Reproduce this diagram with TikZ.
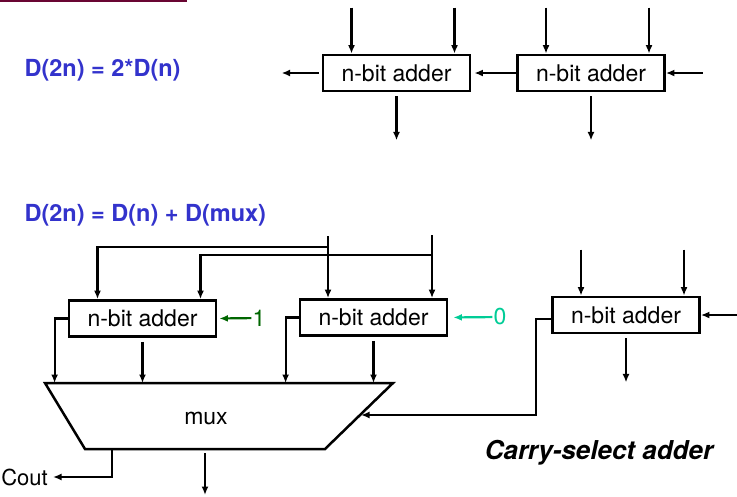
\documentclass[tikz,border=0pt]{standalone}
\usepackage{fontspec}
\setmainfont{TeX Gyre Heros}
\usepackage{xcolor}
\definecolor{eqblue}{RGB}{51, 51, 204}
\definecolor{onegreen}{RGB}{0, 102, 0}
\definecolor{zeroteal}{RGB}{0, 204, 150}
\definecolor{headred}{RGB}{105, 5, 50}
\usetikzlibrary{arrows.meta}

\begin{document}
\begin{tikzpicture}[
    x=1pt, y=-1pt,
    wire/.style={line width=2.2pt, -{Latex[length=8.5pt, width=7pt]}},
    adder/.style={draw, line width=2.8pt, minimum width=147pt, minimum height=36pt,
      inner sep=0pt, font=\fontsize{23}{27}\selectfont},
    txt/.style={inner sep=1pt, font=\fontsize{23}{27}\selectfont},
    eqtext/.style={anchor=west, text=eqblue, font=\fontsize{23.5}{28}\selectfont\bfseries}
  ]
    \useasboundingbox (0,0) rectangle (737,496);
    \draw[headred, line width=1.6pt] (0,0.8) -- (187,0.8);

    % chained adders
    \node[eqtext] (eqone) at (21,70) {D(2n) = 2*D(n)};
    \node[adder] (a1) at (396.5,73) {n-bit adder};
    \node[adder] (a2) at (591,73) {n-bit adder};

    % carry-select
    \node[eqtext] (eqtwo) at (21,215) {D(2n) = D(n) + D(mux)};
    \node[adder] (b1) at (142.5,318.5) {n-bit adder};
    \node[adder] (b2) at (373.5,317.5) {n-bit adder};
    \node[adder] (b3) at (626,315) {n-bit adder};

    \foreach \b in {a1,a2,b3} {
      \draw[wire] ([xshift=-45pt,yshift=46pt]\b.north) -- ([xshift=-45pt]\b.north);
      \draw[wire] ([xshift=58pt,yshift=46pt]\b.north) -- ([xshift=58pt]\b.north);
      \draw[wire] ([yshift=-4pt]\b.south) -- ++(0,44);
    }

    \draw[wire] ([xshift=-3pt]a1.west) -- ++(-37,0);
    \draw[wire, shorten >=3pt] (a2.west) -- (a1.east);
    \draw[wire] ([xshift=37pt]a2.east) -- (a2.east);
    \draw[wire] ([xshift=37pt]b3.east) -- (b3.east);

    % shared inputs
    \coordinate (busA) at (328,236);
    \coordinate (busB) at (432,235);
    \draw[wire] (busA) -- (busA |- b2.north);
    \draw[wire] (busB) -- (busB |- b2.north);
    \draw[wire] ([yshift=-11pt]busA) -| ([xshift=-45pt]b1.north);
    \draw[wire] ([yshift=-20pt]busB) -| ([xshift=58pt]b1.north);

    \node[txt, text=onegreen] (one) at (259,318) {1};
    \draw[wire, onegreen, shorten >=2pt] (one) -- (b1.east);
    \node[txt, text=zeroteal] (zero) at (500,317) {0};
    \draw[wire, zeroteal, shorten >=5pt] (zero) -- (b2.east);

    % mux
    \coordinate (mtl) at (45,383);
    \coordinate (mtr) at (393,383);
    \coordinate (mbr) at (325,449);
    \coordinate (mbl) at (85,449);
    \draw[line width=2.5pt] (mtl) -- (mtr) -- (mbr) -- (mbl) -- cycle;
    \node[txt] (mux) at (206,418) {mux};

    \draw[wire] (b1.west) -- ++(-13,0) coordinate (k1) -- (k1 |- mtl);
    \draw[wire] ([yshift=-4pt]b1.south) -- (b1.south |- mtl);
    \draw[wire] (b2.west) -- ++(-13,0) coordinate (k2) -- (k2 |- mtl);
    \draw[wire] ([yshift=-4pt]b2.south) -- (b2.south |- mtl);
    \coordinate (muxin) at (361,415);
    \draw[wire] ([yshift=-4pt]b3.west) -- ++(-15,0) |- (muxin);

    \node[txt, anchor=east, font=\fontsize{22}{26}\selectfont] (cout) at (49,477) {Cout};
    \draw[wire, shorten >=4pt] ([xshift=27pt]mbl) |- (cout.east);
    \draw[wire] ([xshift=120pt,yshift=-4pt]mbl) -- ++(0,42);

    \node[font=\fontsize{26}{30}\selectfont\bfseries\itshape] (title) at (599,453) {Carry-select adder};
  \end{tikzpicture}
\end{document}
